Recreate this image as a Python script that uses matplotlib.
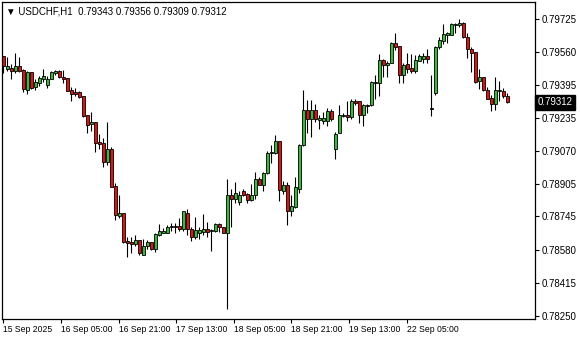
import numpy as np
import matplotlib
matplotlib.use("Agg")
from matplotlib import pyplot as plt

# USDCHF H1 candles (open, high, low, close)
opens = [
    0.79541, 0.79476, 0.79481, 0.79466, 0.79491, 0.79471, 0.79372, 0.79462, 0.79387, 0.79407,
    0.79427, 0.79397, 0.79427, 0.79457, 0.79466, 0.79437, 0.79432, 0.79372, 0.79362, 0.79362,
    0.79342, 0.79248, 0.79203, 0.79213, 0.79114, 0.79109, 0.79014, 0.79079, 0.78895, 0.78746,
    0.78761, 0.78622, 0.78617, 0.78607, 0.78627, 0.78552, 0.78597, 0.78617, 0.78582, 0.78651,
    0.78661, 0.78661, 0.78691, 0.78696, 0.78696, 0.78681, 0.78761, 0.78681, 0.78641, 0.78661,
    0.78666, 0.78681, 0.78671, 0.78671, 0.78706, 0.78691, 0.78661, 0.78850, 0.78830, 0.78815,
    0.78870, 0.78855, 0.78825, 0.78850, 0.78930, 0.78900, 0.78959, 0.79059, 0.79059, 0.79119,
    0.78870, 0.78900, 0.78771, 0.78791, 0.78880, 0.79099, 0.79273, 0.79228, 0.79273, 0.79223,
    0.79218, 0.79218, 0.79268, 0.79079, 0.79158, 0.79243, 0.79248, 0.79238, 0.79317, 0.79317,
    0.79248, 0.79298, 0.79298, 0.79412, 0.79407, 0.79521, 0.79496, 0.79506, 0.79606, 0.79591,
    0.79447, 0.79501, 0.79481, 0.79466, 0.79516, 0.79526, 0.79541, 0.79283, 0.79357, 0.79586,
    0.79616, 0.79645, 0.79645, 0.79695, 0.79695, 0.79705, 0.79635, 0.79576, 0.79561, 0.79417,
    0.79437, 0.79372, 0.79332, 0.79303, 0.79367, 0.79367, 0.79343,
]
highs = [
    0.79541, 0.79536, 0.79501, 0.79556, 0.79536, 0.79476, 0.79466, 0.79462, 0.79427, 0.79442,
    0.79476, 0.79442, 0.79466, 0.79471, 0.79471, 0.79471, 0.79432, 0.79387, 0.79382, 0.79367,
    0.79342, 0.79248, 0.79263, 0.79213, 0.79153, 0.79134, 0.79213, 0.79089, 0.78910, 0.78850,
    0.78761, 0.78641, 0.78641, 0.78651, 0.78627, 0.78632, 0.78627, 0.78617, 0.78661, 0.78706,
    0.78686, 0.78701, 0.78711, 0.78711, 0.78736, 0.78771, 0.78781, 0.78691, 0.78741, 0.78691,
    0.78756, 0.78716, 0.78681, 0.78711, 0.78711, 0.78691, 0.78930, 0.78880, 0.78915, 0.78870,
    0.78880, 0.78860, 0.78905, 0.78964, 0.78940, 0.78964, 0.79069, 0.79099, 0.79148, 0.79119,
    0.78920, 0.78915, 0.78850, 0.78940, 0.79104, 0.79372, 0.79322, 0.79322, 0.79303, 0.79248,
    0.79263, 0.79283, 0.79278, 0.79163, 0.79298, 0.79258, 0.79317, 0.79327, 0.79327, 0.79317,
    0.79303, 0.79303, 0.79417, 0.79447, 0.79551, 0.79526, 0.79516, 0.79611, 0.79655, 0.79591,
    0.79506, 0.79556, 0.79551, 0.79546, 0.79551, 0.79556, 0.79576, 0.79447, 0.79591, 0.79635,
    0.79700, 0.79660, 0.79705, 0.79705, 0.79725, 0.79710, 0.79655, 0.79586, 0.79561, 0.79476,
    0.79437, 0.79387, 0.79347, 0.79437, 0.79417, 0.79382, 0.79356,
]
lows = [
    0.79457, 0.79466, 0.79427, 0.79457, 0.79462, 0.79362, 0.79352, 0.79377, 0.79372, 0.79392,
    0.79412, 0.79382, 0.79427, 0.79447, 0.79432, 0.79407, 0.79367, 0.79317, 0.79342, 0.79332,
    0.79238, 0.79158, 0.79168, 0.79064, 0.79079, 0.78989, 0.78999, 0.78890, 0.78726, 0.78736,
    0.78612, 0.78542, 0.78562, 0.78597, 0.78552, 0.78552, 0.78582, 0.78577, 0.78567, 0.78646,
    0.78661, 0.78661, 0.78671, 0.78661, 0.78671, 0.78671, 0.78651, 0.78622, 0.78632, 0.78632,
    0.78651, 0.78641, 0.78572, 0.78666, 0.78666, 0.78661, 0.78284, 0.78691, 0.78810, 0.78801,
    0.78845, 0.78810, 0.78820, 0.78830, 0.78900, 0.78870, 0.78954, 0.79009, 0.79054, 0.78820,
    0.78855, 0.78701, 0.78746, 0.78786, 0.78860, 0.79094, 0.79158, 0.79139, 0.79213, 0.79178,
    0.79203, 0.79193, 0.79218, 0.79029, 0.79158, 0.79238, 0.79218, 0.79228, 0.79298, 0.79208,
    0.79193, 0.79258, 0.79293, 0.79327, 0.79342, 0.79437, 0.79437, 0.79506, 0.79571, 0.79407,
    0.79407, 0.79457, 0.79457, 0.79457, 0.79516, 0.79506, 0.79506, 0.79243, 0.79347, 0.79576,
    0.79601, 0.79606, 0.79645, 0.79655, 0.79685, 0.79630, 0.79531, 0.79462, 0.79407, 0.79377,
    0.79367, 0.79327, 0.79268, 0.79273, 0.79317, 0.79332, 0.79309,
]
closes = [
    0.79491, 0.79491, 0.79466, 0.79491, 0.79466, 0.79377, 0.79462, 0.79382, 0.79412, 0.79432,
    0.79442, 0.79427, 0.79462, 0.79466, 0.79437, 0.79427, 0.79367, 0.79352, 0.79352, 0.79337,
    0.79243, 0.79198, 0.79213, 0.79109, 0.79104, 0.79014, 0.79079, 0.78890, 0.78751, 0.78761,
    0.78617, 0.78612, 0.78607, 0.78627, 0.78562, 0.78597, 0.78617, 0.78582, 0.78656, 0.78671,
    0.78671, 0.78691, 0.78696, 0.78691, 0.78681, 0.78771, 0.78681, 0.78641, 0.78676, 0.78676,
    0.78681, 0.78666, 0.78676, 0.78706, 0.78691, 0.78661, 0.78850, 0.78830, 0.78860, 0.78850,
    0.78850, 0.78825, 0.78850, 0.78930, 0.78900, 0.78959, 0.79059, 0.79064, 0.79119, 0.78875,
    0.78900, 0.78771, 0.78796, 0.78890, 0.79099, 0.79273, 0.79228, 0.79273, 0.79228, 0.79233,
    0.79233, 0.79268, 0.79228, 0.79153, 0.79248, 0.79248, 0.79238, 0.79317, 0.79307, 0.79248,
    0.79298, 0.79293, 0.79412, 0.79407, 0.79521, 0.79496, 0.79506, 0.79606, 0.79586, 0.79447,
    0.79496, 0.79476, 0.79466, 0.79521, 0.79541, 0.79541, 0.79526, 0.79278, 0.79586, 0.79621,
    0.79650, 0.79655, 0.79700, 0.79700, 0.79705, 0.79635, 0.79576, 0.79556, 0.79412, 0.79437,
    0.79372, 0.79327, 0.79303, 0.79372, 0.79372, 0.79342, 0.79312,
]

price_ticks = [0.79725, 0.79560, 0.79395, 0.79235, 0.79070,
               0.78905, 0.78745, 0.78580, 0.78415, 0.78250]
time_labels = ["15 Sep 2025", "16 Sep 05:00", "16 Sep 21:00", "17 Sep 13:00",
               "18 Sep 05:00", "18 Sep 21:00", "19 Sep 13:00", "22 Sep 05:00"]
label_step = 14.4  # bars between time labels
symbol = "USDCHF,H1"

BULL = "#3cb83c"
BEAR = "#dc1414"

plt.rcParams['font.family'] = ['Liberation Sans', 'DejaVu Sans']

o = np.array(opens)
h = np.array(highs)
l = np.array(lows)
c = np.array(closes)
x = np.arange(len(o))

fig = plt.figure(figsize=(5.8, 3.4), dpi=100)
ax = fig.add_axes([2 / 580, 21 / 340, 533 / 580, 317 / 340])

# wicks
ax.vlines(x, l, h, color="black", linewidth=0.8, zorder=1)

# bodies
up = c >= o
colors = np.where(up, BULL, BEAR)
body = np.maximum(np.abs(c - o), 0.000025)
bottom = np.minimum(o, c)
ax.bar(x, body, bottom=bottom, width=0.7, color=colors,
       edgecolor="black", linewidth=0.6, zorder=2)

ax.set_xlim(-0.33, 132.9)
ax.set_ylim(0.782351, 0.798094)

# price axis on the right
ax.yaxis.tick_right()
ax.set_yticks(price_ticks)
ax.set_yticklabels([f"{p:.5f}" for p in price_ticks])
ax.tick_params(axis="y", length=3, width=0.8, pad=2, labelsize=7, colors="black")

# time axis
ax.set_xticks(np.arange(len(time_labels)) * label_step)
ax.set_xticklabels(time_labels, ha="left")
ax.tick_params(axis="x", length=3, width=0.8, pad=1.5, labelsize=6.2, colors="black")

for s in ax.spines.values():
    s.set_color("black")
    s.set_linewidth(0.9)

# header
fig.text(6 / 580, 1 - 11 / 340,
         f"\u25bc {symbol}  {opens[-1]:.5f} {highs[-1]:.5f} {lows[-1]:.5f} {closes[-1]:.5f}",
         fontsize=7, va="center", ha="left")

# current price marker
ax.annotate(f"{closes[-1]:.5f}", xy=(1.0, closes[-1]),
            xycoords=("axes fraction", "data"),
            xytext=(2, 0), textcoords="offset points",
            va="center", ha="left", fontsize=7, color="white",
            bbox=dict(boxstyle="square,pad=0.25", fc="black", ec="black"))

fig.savefig("out.png", dpi=100, facecolor="white")
